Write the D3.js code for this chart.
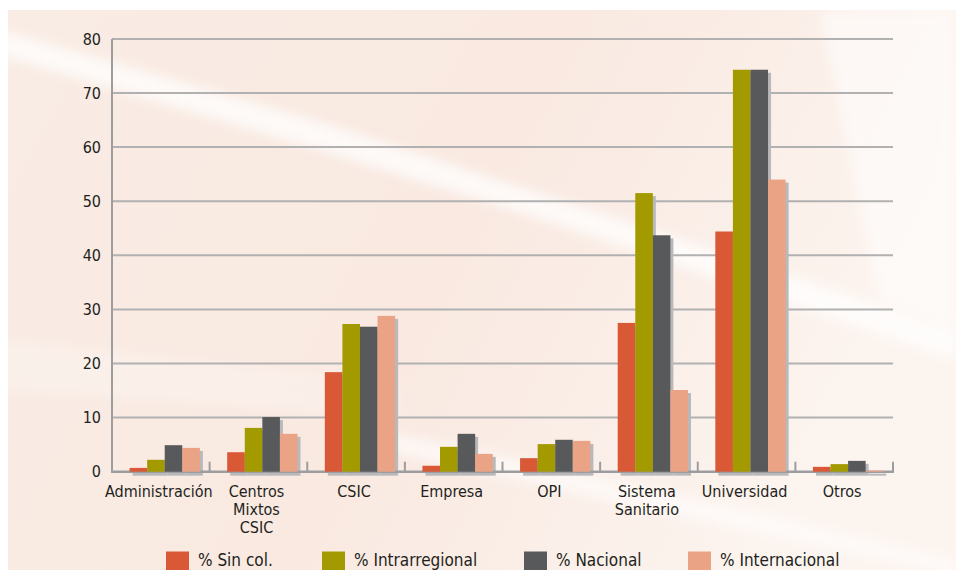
<!DOCTYPE html>
<html><head><meta charset="utf-8">
<script src="https://cdn.jsdelivr.net/npm/d3@7"></script>
<style>
html,body{margin:0;padding:0;background:#fff;}
svg{display:block;}
text{font-family:"DejaVu Sans Condensed","DejaVu Sans",sans-serif;fill:#231f20;}
</style></head><body>
<div id="chart"></div>
<script>
const categories = [["Administración"],["Centros","Mixtos","CSIC"],["CSIC"],["Empresa"],["OPI"],["Sistema","Sanitario"],["Universidad"],["Otros"]];
const seriesNames = ["% Sin col.","% Intrarregional","% Nacional","% Internacional"];
const sinCol        = [0.7, 3.6, 18.4, 1.1, 2.5, 27.5, 44.4, 0.9];
const intrarregional= [2.2, 8.1, 27.3, 4.6, 5.1, 51.5, 74.3, 1.4];
const nacional      = [4.9, 10.1, 26.8, 7.0, 5.9, 43.7, 74.3, 2.0];
const internacional = [4.4, 7.0, 28.8, 3.3, 5.7, 15.1, 54.0, 0.2];
const yTicks = [0,10,20,30,40,50,60,70,80];
const colors = ["#d95836","#a39a00","#58595b","#eba386"];
const series = [sinCol, intrarregional, nacional, internacional];

const W = 956, H = 570;
const svg = d3.select("#chart").append("svg").attr("width",W).attr("height",H);
const defs = svg.append("defs");
const lg = defs.append("linearGradient").attr("id","bg").attr("x1","0").attr("y1","0").attr("x2","1").attr("y2","0.3");
lg.append("stop").attr("offset","0").attr("stop-color","#f9ece4");
lg.append("stop").attr("offset","0.55").attr("stop-color","#f9e9e1");
lg.append("stop").attr("offset","1").attr("stop-color","#fcf4ef");
const blur = defs.append("filter").attr("id","blur").attr("x","-20%").attr("y","-20%").attr("width","140%").attr("height","140%");
blur.append("feGaussianBlur").attr("stdDeviation",6);

const bg = svg.append("g");
bg.append("rect").attr("x",8).attr("y",10).attr("width",W-8).attr("height",H-10).attr("fill","url(#bg)");
const bgClip = defs.append("clipPath").attr("id","bgclip");
bgClip.append("rect").attr("x",8).attr("y",10).attr("width",W-8).attr("height",H-10);
const streaks = bg.append("g").attr("clip-path","url(#bgclip)");
streaks.append("path").attr("d","M0,30 L330,125 L560,200 L956,330 L956,360 L560,225 L320,150 L0,55 Z").attr("fill","#fff").attr("opacity",0.75).attr("filter","url(#blur)");
streaks.append("path").attr("d","M380,430 L700,500 L956,560 L956,575 L700,520 L380,450 Z").attr("fill","#fff").attr("opacity",0.6).attr("filter","url(#blur)");
streaks.append("path").attr("d","M0,340 L400,380 L400,420 L0,390 Z").attr("fill","#fff").attr("opacity",0.25).attr("filter","url(#blur)");
streaks.append("path").attr("d","M820,10 L956,10 L956,330 L880,300 Z").attr("fill","#fff").attr("opacity",0.55).attr("filter","url(#blur)");

const pLeft = 112, pRight = 893, pTop = 38.9, pBottom = 471.7;
const x = d3.scaleBand().domain(d3.range(categories.length)).range([pLeft,pRight]).paddingInner(0).paddingOuter(0);
const bw = x.bandwidth();
const xs = d3.scaleBand().domain(d3.range(series.length)).range([bw*0.18, bw*0.18 + bw*0.72]).padding(0);
const y = d3.scaleLinear().domain([0,80]).range([pBottom, pTop]);

// gridlines
svg.append("g").selectAll("line").data(yTicks.filter(d=>d>0)).join("line")
  .attr("x1",pLeft).attr("x2",pRight).attr("y1",d=>y(d)).attr("y2",d=>y(d))
  .attr("stroke","#b1b1b1").attr("stroke-width",2);

// shadows
const sh = svg.append("g");
series.forEach((s,si)=>{
  sh.selectAll(null).data(s).join("rect")
    .attr("x",(d,i)=>x(i)+xs(si)+3).attr("y",d=>y(d)+3)
    .attr("width",xs.bandwidth()).attr("height",d=>pBottom-y(d)+1)
    .attr("fill","#b9b9bb");
});

// axes
svg.append("line").attr("x1",pLeft).attr("x2",pLeft).attr("y1",pTop).attr("y2",pBottom).attr("stroke","#9d9d9f").attr("stroke-width",2);
svg.append("line").attr("x1",pLeft-1).attr("x2",pRight+1).attr("y1",pBottom).attr("y2",pBottom).attr("stroke","#9d9d9f").attr("stroke-width",2.5);
svg.append("g").selectAll("line").data(d3.range(1,categories.length+1)).join("line")
  .attr("x1",i=>pLeft+i*bw).attr("x2",i=>pLeft+i*bw).attr("y1",pBottom).attr("y2",pBottom-10)
  .attr("stroke","#9d9d9f").attr("stroke-width",2);

// bars
const bars = svg.append("g");
series.forEach((s,si)=>{
  bars.selectAll(null).data(s).join("rect")
    .attr("x",(d,i)=>x(i)+xs(si)).attr("y",d=>y(d))
    .attr("width",xs.bandwidth()).attr("height",d=>pBottom-y(d))
    .attr("fill",colors[si]);
});

// y labels
svg.append("g").selectAll("text").data(yTicks).join("text")
  .attr("x",101).attr("y",d=>y(d)).attr("dy","0.35em").attr("text-anchor","end")
  .attr("font-size",16).text(d=>d);

// x labels
const xl = svg.append("g");
categories.forEach((lines,i)=>{
  const t = xl.append("text").attr("x",x(i)+bw/2 - 2).attr("y",497).attr("text-anchor","middle").attr("font-size",16);
  lines.forEach((ln,k)=>t.append("tspan").attr("x",x(i)+bw/2 - 2).attr("dy",k===0?0:18).text(ln));
});

// legend
const legX = [166, 322, 524, 688];
const lgG = svg.append("g");
seriesNames.forEach((n,i)=>{
  lgG.append("rect").attr("x",legX[i]).attr("y",551.5).attr("width",23).attr("height",20).attr("fill",colors[i]);
  lgG.append("text").attr("x",legX[i]+32).attr("y",566).attr("font-size",17).text(n);
});
</script>
</body></html>
